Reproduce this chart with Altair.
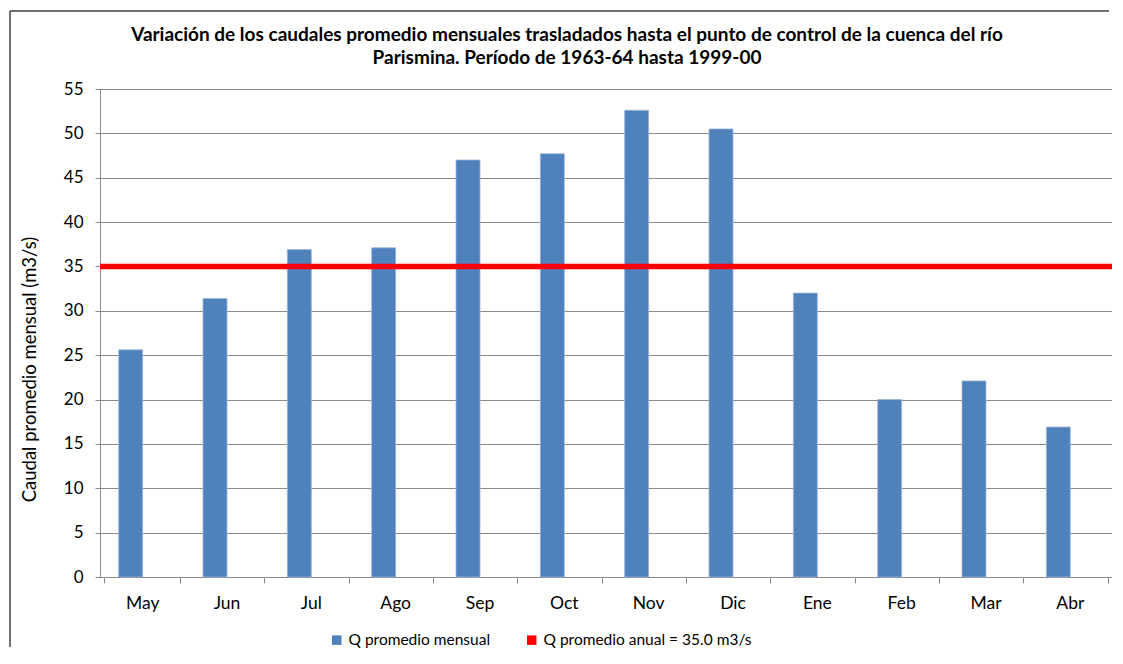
import altair as alt
import pandas as pd

meses = ["May", "Jun", "Jul", "Ago", "Sep", "Oct", "Nov", "Dic", "Ene", "Feb", "Mar", "Abr"]
caudal = [25.6, 31.4, 36.9, 37.1, 47.0, 47.7, 52.6, 50.5, 32.0, 20.0, 22.1, 16.9]
promedio_anual = [35.0]
serie_mensual = "Q promedio mensual"
serie_anual = "Q promedio anual = 35.0 m3/s"
titulo = ["Variación de los caudales promedio mensuales trasladados hasta el punto de control de la cuenca del río",
          "Parismina. Período de 1963-64 hasta 1999-00"]
y_ticks = list(range(0, 56, 5))

FONT = "Lato"
W, H = 1012, 488
PAD_BOTTOM = 72
GRAY = "#8a8a8a"

df = pd.DataFrame({"mes": meses, "q": caudal, "serie": [serie_mensual] * len(meses)})
df_avg = pd.DataFrame({"q": promedio_anual})
df_one = pd.DataFrame({"k": [0]})

bars = alt.Chart(df).mark_bar(size=24, xOffset=-11.5, stroke="#9db6d8", strokeWidth=0.8).encode(
    x=alt.X("mes:N", sort=meses, title=None,
            axis=alt.Axis(labelAngle=0, tickBand="extent", grid=False, domainColor=GRAY,
                          tickColor=GRAY, tickSize=6, labelPadding=11, labelFontSize=17.5,
                          labelFont=FONT, labelColor="#000")),
    y=alt.Y("q:Q", scale=alt.Scale(domain=[0, 55], nice=False),
            axis=alt.Axis(values=y_ticks, grid=True, gridColor=GRAY, domainColor=GRAY,
                          tickColor=GRAY, tickSize=5, labelPadding=12, labelFontSize=17,
                          labelFont=FONT, labelColor="#000",
                          title="Caudal promedio mensual (m3/s)", titleFont=FONT,
                          titleFontSize=18.5, titleFontWeight="normal", titleColor="#000",
                          titleAngle=270, titleX=-71, titleY=280, titleAlign="center",
                          titleBaseline="middle")),
    color=alt.Color("serie:N",
                    scale=alt.Scale(domain=[serie_mensual, serie_anual], range=["#4F81BD", "#FF0000"]),
                    legend=alt.Legend(title=None, orient="none", legendX=229, legendY=543,
                                      direction="horizontal", symbolType="square",
                                      symbolSize=90, symbolStrokeWidth=0, labelFont=FONT,
                                      labelFontSize=15.5, labelColor="#000", columnPadding=33,
                                      labelOffset=4, labelLimit=500)),
)

rule = alt.Chart(df_avg).mark_rule(color="#FF0000", strokeWidth=5.5).encode(
    y=alt.Y("q:Q")
)

frame_left = alt.Chart(df_one).mark_rule(color="#404040", strokeWidth=1.5).encode(
    x=alt.value(-90), y=alt.value(-78), y2=alt.value(H + PAD_BOTTOM - 2)
)
frame_top = alt.Chart(df_one).mark_rule(color="#404040", strokeWidth=1.5).encode(
    x=alt.value(-90), x2=alt.value(W - 3), y=alt.value(-78)
)

title1 = alt.Chart(df_one).mark_text(font=FONT, fontSize=19, fontWeight="bold", color="#000",
                                     align="center", baseline="alphabetic").encode(
    x=alt.value(467), y=alt.value(-48), text=alt.value(titulo[0])
)
title2 = alt.Chart(df_one).mark_text(font=FONT, fontSize=19, fontWeight="bold", color="#000",
                                     align="center", baseline="alphabetic").encode(
    x=alt.value(467), y=alt.value(-25), text=alt.value(titulo[1])
)

chart = alt.layer(frame_left, frame_top, bars, rule, title1, title2).properties(
    width=W, height=H,
    autosize=alt.AutoSizeParams(type="none"),
    padding={"left": 92, "top": 81, "right": 0, "bottom": PAD_BOTTOM},
).configure_view(stroke=None)

chart.save("out.html", embed_options={"renderer": "svg", "actions": False})
